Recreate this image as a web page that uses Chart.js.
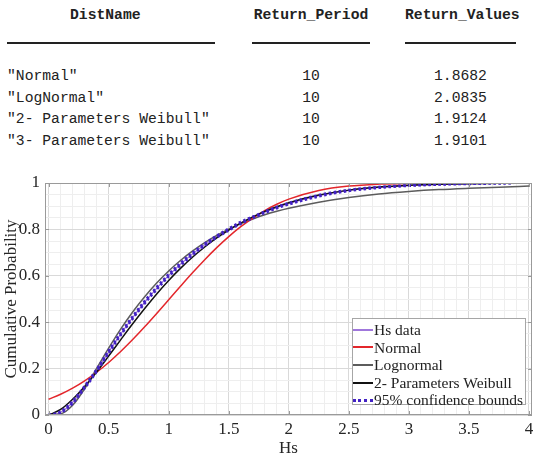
<!DOCTYPE html>
<html>
<head>
<meta charset="utf-8">
<script src="https://cdn.jsdelivr.net/npm/chart.js@4.4.1/dist/chart.umd.min.js"></script>
<style>
  body { margin: 0; width: 549px; height: 459px; background: #fff; position: relative; overflow: hidden; }
  #table-area { position: absolute; left: 0; top: 0; width: 549px; height: 160px; font-family: 'Liberation Mono', 'Courier New', monospace; font-size: 14.7px; color: #222; }
  .cell { position: absolute; white-space: pre; line-height: 18px; }
  .head { font-weight: bold; }
  .rule { position: absolute; top: 42px; height: 1.5px; background: #222; }
  #chart-box { position: absolute; left: 0; top: 165px; }
  #legend { position: absolute; left: 352px; top: 318px; width: 174px; height: 87px; box-sizing: border-box; padding-top: 2px; border: 1px solid #a6a6a6; background: #fff; font-family: 'Liberation Serif', 'Times New Roman', serif; font-size: 15.5px; color: #222; }
  .leg-row { height: 17.6px; line-height: 17.6px; white-space: nowrap; display: flex; align-items: center; }
  .leg-line { display: inline-block; width: 20px; margin-right: 1px; }
</style>
</head>
<body>
<div id="table-area"></div>
<div id="chart-box"><canvas id="cdf-canvas" width="549" height="294"></canvas></div>
<div id="legend"></div>
<script>
// table values
var distNames = ['"Normal"', '"LogNormal"', '"2- Parameters Weibull"', '"3- Parameters Weibull"'];
var returnPeriods = [10, 10, 10, 10];
var returnValues = ['1.8682', '2.0835', '1.9124', '1.9101'];

// chart values (Hs on x, cumulative probability on y)
var hs = [0, 0.1, 0.2, 0.3, 0.4, 0.5, 0.6, 0.7, 0.8, 0.9, 1.0, 1.1, 1.2, 1.3, 1.4, 1.5, 1.6, 1.7, 1.8, 1.9, 2.0,
  2.25, 2.5, 2.75, 3.0, 3.25, 3.5, 3.75, 4.0];
var normalCdf = [0.0677, 0.0894, 0.1158, 0.1474, 0.1843, 0.2265, 0.2737, 0.3252, 0.3803, 0.4380, 0.4970,
  0.5561, 0.6140, 0.6694, 0.7214, 0.7690, 0.8117, 0.8491, 0.8813, 0.9082, 0.9304,
  0.9678, 0.9868, 0.9952, 0.9985, 0.9996, 0.9999, 1.0, 1.0];
var lognormalCdf = [0, 0.0044, 0.0418, 0.1132, 0.2005, 0.288, 0.370, 0.444, 0.510, 0.569, 0.621,
  0.667, 0.707, 0.743, 0.774, 0.801, 0.825, 0.845, 0.863, 0.878, 0.891,
  0.9175, 0.938, 0.953, 0.9635, 0.9715, 0.977, 0.9815, 0.987];
var weibullCdf = [0, 0.0238, 0.0679, 0.1233, 0.1854, 0.254, 0.324, 0.393, 0.459, 0.522, 0.580,
  0.633, 0.681, 0.724, 0.763, 0.797, 0.827, 0.854, 0.8775, 0.8978, 0.9151,
  0.9481, 0.9693, 0.9823, 0.9901, 0.9946, 0.9971, 0.9985, 0.9993];

var hsDataX = [0, 0.1, 0.2, 0.3, 0.4, 0.5, 0.6, 0.7, 0.8, 0.9, 1.0, 1.1, 1.2, 1.3, 1.4, 1.5, 1.6, 1.7, 1.8, 1.9, 2.0,
  2.25, 2.5, 2.75, 3.0, 3.25, 3.5, 3.75, 3.87];
var hsDataCdf = [0, 0.012, 0.055, 0.120, 0.192, 0.272, 0.349, 0.420, 0.486, 0.546, 0.602,
  0.651, 0.695, 0.734, 0.769, 0.800, 0.828, 0.852, 0.874, 0.894, 0.911,
  0.945, 0.968, 0.981, 0.989, 0.994, 0.997, 0.999, 1.0];
var boundLower = [0, 0.009, 0.050, 0.115, 0.187, 0.267, 0.344, 0.415, 0.481, 0.541, 0.597,
  0.646, 0.690, 0.730, 0.765, 0.796, 0.824, 0.849, 0.871, 0.891, 0.908,
  0.942, 0.966, 0.979, 0.988, 0.993, 0.996, 0.998, 0.999];
var boundUpper = [0, 0.015, 0.060, 0.125, 0.197, 0.277, 0.354, 0.425, 0.491, 0.551, 0.607,
  0.656, 0.700, 0.738, 0.773, 0.804, 0.832, 0.855, 0.877, 0.897, 0.914,
  0.948, 0.970, 0.983, 0.990, 0.995, 0.998, 1.0, 1.0];

var xMajorStep = 0.5;
var yMajorStep = 0.2;

function buildTable() {
	var area = document.getElementById('table-area');
	var html = '';
	html += '<div class="cell head" style="left:70px;top:6px">DistName</div>';
	html += '<div class="cell head" style="left:252px;width:118px;text-align:center;top:6px">Return_Period</div>';
	html += '<div class="cell head" style="left:405px;width:111px;text-align:center;top:6px">Return_Values</div>';
	html += '<div class="rule" style="left:7px;width:208px"></div>';
	html += '<div class="rule" style="left:252px;width:118px"></div>';
	html += '<div class="rule" style="left:405px;width:111px"></div>';
	var rowTops = [67, 89, 110, 132];
	for (var i = 0; i < distNames.length; i++) {
		html += '<div class="cell" style="left:7px;top:' + rowTops[i] + 'px">' + distNames[i] + '</div>';
		html += '<div class="cell" style="left:252px;width:118px;text-align:center;top:' + rowTops[i] + 'px">' + returnPeriods[i] + '</div>';
		html += '<div class="cell" style="left:405px;width:111px;text-align:center;top:' + rowTops[i] + 'px">' + returnValues[i] + '</div>';
	}
	area.innerHTML = html;
}

function toPoints(xs, ys) {
	var pts = [];
	for (var i = 0; i < xs.length; i++) {
		pts.push({x: xs[i], y: ys[i]});
	}
	return pts;
}

function isMajor(v, step) {
	var r = v / step;
	return Math.abs(r - Math.round(r)) < 1e-9;
}

// minor grid positions: 0.1 along Hs, 0.05 along probability
var xGrid = [];
for (var i = 0; i <= 40; i++) xGrid.push(Math.round(i * 10) / 100);
var yGrid = [];
for (var j = 0; j <= 20; j++) yGrid.push(Math.round(j * 5) / 100);

var boxPlugin = {
	id: 'axesBox',
	afterDraw: function(chart) {
		var ctx = chart.ctx;
		var a = chart.chartArea;
		var xs = chart.scales.x, ys = chart.scales.y;
		ctx.save();
		ctx.strokeStyle = '#9a9a9a';
		ctx.lineWidth = 1;
		ctx.strokeRect(a.left + 0.5, a.top + 0.5, a.right - a.left - 1, a.bottom - a.top - 1);
		ctx.beginPath();
		for (var i = 0; i < xGrid.length; i++) {
			if (!isMajor(xGrid[i], xMajorStep)) continue;
			var px = Math.round(xs.getPixelForValue(xGrid[i])) + 0.5;
			ctx.moveTo(px, a.bottom); ctx.lineTo(px, a.bottom - 4);
			ctx.moveTo(px, a.top); ctx.lineTo(px, a.top + 4);
		}
		for (var k = 0; k < yGrid.length; k++) {
			if (!isMajor(yGrid[k], yMajorStep)) continue;
			var py = Math.round(ys.getPixelForValue(yGrid[k])) + 0.5;
			ctx.moveTo(a.left, py); ctx.lineTo(a.left + 4, py);
			ctx.moveTo(a.right, py); ctx.lineTo(a.right - 4, py);
		}
		ctx.stroke();
		ctx.restore();
	}
};

var seriesStyle = [
	{ label: 'Hs data', color: '#a077dc', width: 1.2, dotted: false },
	{ label: 'Normal', color: '#e3262b', width: 1.5, dotted: false },
	{ label: 'Lognormal', color: '#5c5c5c', width: 1.5, dotted: false },
	{ label: '2- Parameters Weibull', color: '#111111', width: 1.5, dotted: false },
	{ label: '95% confidence bounds', color: '#4322c4', width: 2.5, dotted: true }
];

function createCdfChart() {
	Chart.defaults.font.family = "'Liberation Serif', 'Times New Roman', serif";
	Chart.defaults.color = '#262626';

	var s = seriesStyle;
	var chart = new Chart(document.getElementById('cdf-canvas'), {
		type: 'line',
		data: {
			datasets: [
				{ label: s[0].label, data: toPoints(hsDataX, hsDataCdf), borderColor: s[0].color, borderWidth: s[0].width, order: 5 },
				{ label: s[1].label, data: toPoints(hs, normalCdf), borderColor: s[1].color, borderWidth: s[1].width, order: 3 },
				{ label: s[2].label, data: toPoints(hs, lognormalCdf), borderColor: s[2].color, borderWidth: s[2].width, order: 4 },
				{ label: s[3].label, data: toPoints(hs, weibullCdf), borderColor: s[3].color, borderWidth: s[3].width, order: 2 },
				{ label: s[4].label, data: toPoints(hsDataX, boundLower), borderColor: s[4].color, borderWidth: s[4].width, borderDash: [2.5, 2.5], order: 1 },
				{ label: s[4].label + ' (upper)', data: toPoints(hsDataX, boundUpper), borderColor: s[4].color, borderWidth: s[4].width, borderDash: [2.5, 2.5], order: 1 }
			]
		},
		options: {
			responsive: false,
			animation: false,
			devicePixelRatio: 1,
			parsing: false,
			elements: {
				point: { radius: 0 },
				line: { cubicInterpolationMode: 'monotone', fill: false }
			},
			layout: { padding: { top: 18, right: 17, left: 0, bottom: 0 } },
			plugins: {
				legend: { display: false },
				tooltip: { enabled: false }
			},
			scales: {
				x: {
					type: 'linear',
					min: -0.03,
					max: 4.025,
					afterBuildTicks: function(axis) {
						axis.ticks = xGrid.map(function(v) { return {value: v}; });
					},
					afterFit: function(axis) { axis.height = 44; },
					ticks: {
						autoSkip: false,
						maxRotation: 0,
						padding: 4,
						font: { size: 17 },
						callback: function(v) { return isMajor(v, xMajorStep) ? String(v) : ''; }
					},
					grid: {
						drawTicks: false,
						color: function(c) { return isMajor(c.tick.value, xMajorStep) ? '#d9d9d9' : '#eeeeee'; }
					},
					border: { display: false },
					title: { display: true, text: 'Hs', font: { size: 17 }, padding: { top: 0, bottom: 0 } }
				},
				y: {
					type: 'linear',
					min: 0,
					max: 1,
					afterBuildTicks: function(axis) {
						axis.ticks = yGrid.map(function(v) { return {value: v}; });
					},
					afterFit: function(axis) { axis.width = 45; },
					ticks: {
						autoSkip: false,
						padding: 5,
						font: { size: 17 },
						callback: function(v) { return isMajor(v, yMajorStep) ? String(v) : ''; }
					},
					grid: {
						drawTicks: false,
						color: function(c) { return isMajor(c.tick.value, yMajorStep) ? '#d9d9d9' : '#eeeeee'; }
					},
					border: { display: false },
					title: { display: true, text: 'Cumulative Probability', font: { size: 17 }, padding: { top: 1, bottom: 0 } }
				}
			}
		},
		plugins: [boxPlugin]
	});
	return chart;
}

function buildLegend() {
	var html = '';
	seriesStyle.forEach(function(st) {
		var style = st.dotted
			? 'height:0;border-top:3px dotted ' + st.color
			: 'height:' + (st.width > 1.3 ? 2 : 1.5) + 'px;background:' + st.color;
		html += '<div class="leg-row"><span class="leg-line" style="' + style + '"></span><span>' + st.label + '</span></div>';
	});
	document.getElementById('legend').innerHTML = html;
}

buildTable();
createCdfChart();
buildLegend();
</script>
</body>
</html>
